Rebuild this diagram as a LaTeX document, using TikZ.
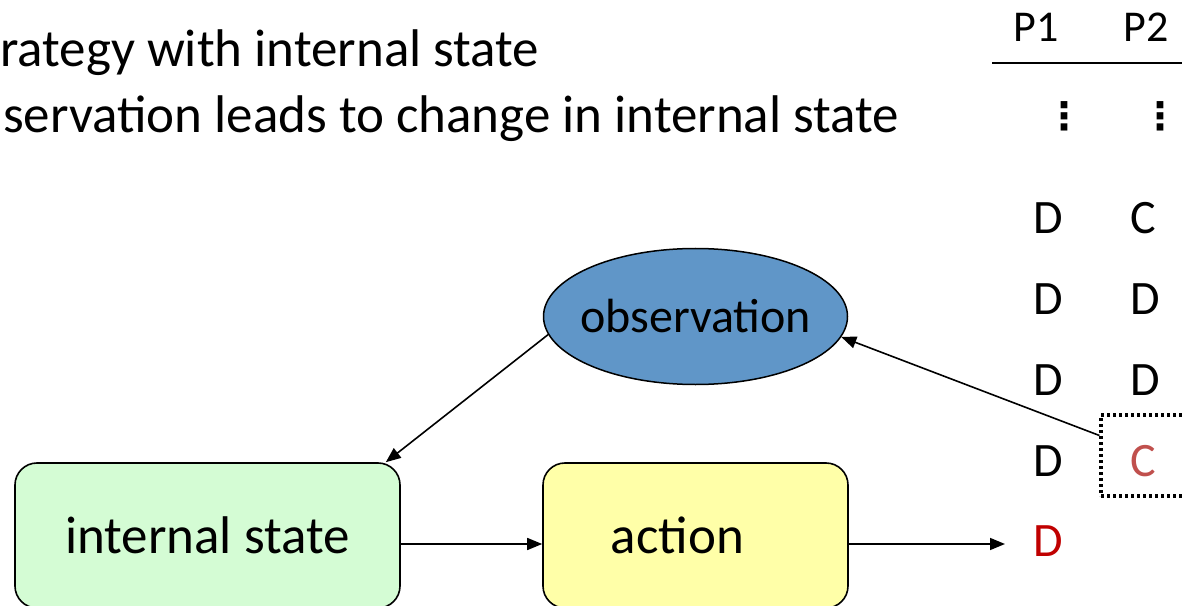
\documentclass[tikz,border=0pt]{standalone}
\usepackage{fontspec}
\setmainfont{Carlito}
\newfontfamily\dejavu{DejaVu Sans}
\usetikzlibrary{shapes.geometric,arrows.meta}
\definecolor{obsblue}{HTML}{6096C8}
\definecolor{stgreen}{HTML}{D4FCD4}
\definecolor{acyellow}{HTML}{FFFFA8}
\definecolor{darkred}{HTML}{C00000}
\definecolor{lightred}{HTML}{C0504D}
\tikzset{
  big/.style={font=\fontsize{53bp}{60bp}\selectfont, anchor=base west, inner sep=0pt},
  cell/.style={font=\fontsize{48bp}{55bp}\selectfont, inner sep=0pt},
  head/.style={font=\fontsize{44bp}{50bp}\selectfont, inner sep=0pt},
  vdot/.style={font=\dejavu\bfseries\fontsize{38bp}{40bp}\selectfont, inner sep=0pt},
  rbox/.style={draw=black, line width=1.6bp, rounded corners=22bp, minimum height=145bp, inner sep=0pt, font=\fontsize{53bp}{60bp}\selectfont},
  arr/.style={line width=1.6bp, -{Triangle[length=15bp,width=12bp]}},
}
\begin{document}
\begin{tikzpicture}[x=1bp,y=-1bp]
\useasboundingbox (0,0) rectangle (1182,606);
\clip (0,0) rectangle (1182,606);
% heading text
\node[big] (t1) at (0,67) {rategy with internal state};
\node[big] (t2) at (3,133) {servation leads to change in internal state};
% table header
\node[head] (p1) at (1036,27) {P1};
\node[head] (p2) at (1146,27) {P2};
\draw[line width=1.6bp] (992,63) -- (1182,63);
\node[vdot] (v1) at (1064,116) {⋮};
\node[vdot] (v2) at (1160,116) {⋮};
% rows
\node[cell] (a1) at (1048,218) {D};
\node[cell] (b1) at (1143,218) {C};
\node[cell] (a2) at (1048,299) {D};
\node[cell] (b2) at (1145,299) {D};
\node[cell] (a3) at (1048,380) {D};
\node[cell] (b3) at (1145,380) {D};
\node[cell] (a4) at (1048,461) {D};
\node[cell, text=lightred] (b4) at (1143,461) {C};
\node[cell, text=darkred] (a5) at (1048,541) {D};
\node[draw=black, line width=3.2bp, dash pattern=on 3bp off 3bp, minimum width=84bp, minimum height=81bp, inner sep=0pt] (cbox) at (1143,455.5) {};
% diagram
\node[ellipse, draw=black, line width=1.5bp, fill=obsblue, minimum width=304bp, minimum height=136bp, inner sep=0pt, font=\fontsize{48bp}{55bp}\selectfont] (obs) at (695.5,316.5) {\makebox[0pt]{observation}};
\node[rbox, fill=stgreen, minimum width=385bp] (int) at (207.5,535.5) {\raisebox{-5bp}{internal state}};
\node[rbox, fill=acyellow, minimum width=305bp] (act) at (695.5,535.5) {\hspace*{-36bp}action};
\coordinate (out) at (1005,544);
\draw[arr] (obs.187.8) -- ([xshift=-15bp]int.north east);
\draw[arr] (int.east |- 0,544) -- (act.west |- 0,544);
\draw[arr] (act.east |- 0,544) -- (out);
\draw[arr] ([yshift=20bp]cbox.west) -- (obs.352.3);
\end{tikzpicture}
\end{document}
